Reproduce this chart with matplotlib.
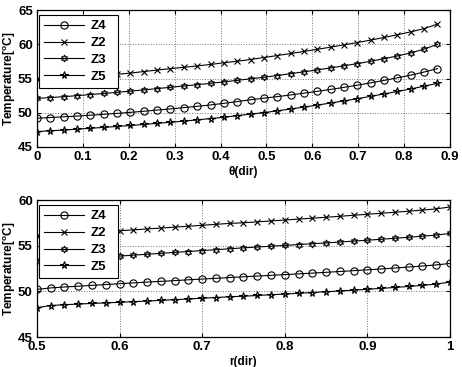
import numpy as np
import matplotlib
matplotlib.use("Agg")
import matplotlib.pyplot as plt

# ---- data ----
theta = np.linspace(0, 0.8727, 31)
theta_z4 = [49.20, 49.30, 49.41, 49.52, 49.64, 49.77, 49.91, 50.06, 50.22, 50.39,
            50.57, 50.75, 50.94, 51.14, 51.38, 51.63, 51.90, 52.13, 52.36, 52.60,
            52.86, 53.13, 53.41, 53.71, 54.03, 54.37, 54.73, 55.10, 55.50, 55.95,
            56.45]
theta_z2 = [55.00, 55.10, 55.20, 55.30, 55.40, 55.50, 55.61, 55.80, 56.02, 56.24,
            56.45, 56.64, 56.84, 57.06, 57.30, 57.53, 57.78, 58.07, 58.36, 58.66,
            58.96, 59.27, 59.59, 59.92, 60.26, 60.62, 61.00, 61.40, 61.82, 62.30,
            62.95]
theta_z3 = [52.10, 52.22, 52.35, 52.50, 52.66, 52.82, 52.99, 53.16, 53.34, 53.53,
            53.72, 53.91, 54.10, 54.30, 54.51, 54.74, 54.96, 55.18, 55.44, 55.71,
            55.98, 56.26, 56.55, 56.86, 57.18, 57.52, 57.90, 58.30, 58.75, 59.30,
            60.00]
theta_z5 = [47.25, 47.36, 47.48, 47.60, 47.73, 47.86, 48.00, 48.14, 48.29, 48.45,
            48.61, 48.78, 48.96, 49.15, 49.35, 49.58, 49.80, 50.02, 50.28, 50.55,
            50.83, 51.12, 51.42, 51.73, 52.06, 52.40, 52.75, 53.11, 53.48, 53.88,
            54.30]

r = np.linspace(0.5, 1.0, 31)
r_z4 = [50.22, 50.38, 50.48, 50.57, 50.66, 50.75, 50.84, 50.93, 51.02, 51.10,
        51.18, 51.27, 51.35, 51.43, 51.52, 51.60, 51.68, 51.76, 51.84, 51.92,
        52.00, 52.09, 52.18, 52.27, 52.36, 52.46, 52.56, 52.67, 52.78, 52.90,
        53.06]
r_z2 = [56.05, 56.15, 56.25, 56.35, 56.45, 56.55, 56.64, 56.74, 56.84, 56.94,
        57.04, 57.14, 57.24, 57.35, 57.45, 57.52, 57.62, 57.72, 57.82, 57.92,
        58.02, 58.12, 58.23, 58.34, 58.45, 58.56, 58.67, 58.79, 58.91, 59.04,
        59.25]
r_z3 = [53.32, 53.41, 53.50, 53.59, 53.68, 53.77, 53.87, 53.97, 54.07, 54.17,
        54.27, 54.37, 54.47, 54.57, 54.67, 54.77, 54.86, 54.95, 55.04, 55.13,
        55.22, 55.31, 55.41, 55.51, 55.61, 55.71, 55.82, 55.93, 56.05, 56.17,
        56.35]
r_z5 = [48.22, 48.45, 48.54, 48.61, 48.68, 48.74, 48.80, 48.87, 48.94, 49.01,
        49.09, 49.17, 49.25, 49.33, 49.41, 49.47, 49.55, 49.63, 49.71, 49.79,
        49.87, 49.96, 50.05, 50.14, 50.23, 50.33, 50.43, 50.54, 50.66, 50.80,
        51.02]

labels = ["Z4", "Z2", "Z3", "Z5"]
theta_ticks = [0, 0.1, 0.2, 0.3, 0.4, 0.5, 0.6, 0.7, 0.8, 0.9]
theta_ticklabels = ["0", "0.1", "0.2", "0.3", "0.4", "0.5", "0.6", "0.7", "0.8", "0.9"]
r_ticks = [0.5, 0.6, 0.7, 0.8, 0.9, 1.0]
r_ticklabels = ["0.5", "0.6", "0.7", "0.8", "0.9", "1"]

plt.rcParams['font.family'] = ['Liberation Sans', 'DejaVu Sans']
plt.rcParams['font.weight'] = 'bold'
plt.rcParams['font.size'] = 9.5
plt.rcParams['mathtext.fontset'] = 'custom'
plt.rcParams['mathtext.bf'] = 'Liberation Sans:bold'
plt.rcParams['mathtext.rm'] = 'Liberation Sans:bold'

styles = [
    dict(marker='o', markersize=5.2),
    dict(marker='x', markersize=4),
    dict(marker=(6, 1, 0), markersize=5),
    dict(marker='*', markersize=5.5),
]


def draw_panel(ax, x, series, ticks, ticklabels, xlim, ylim, yticks, xlabel):
    for ys, lab, st in zip(series, labels, styles):
        ax.plot(x, ys, color='black', linewidth=0.8, markerfacecolor='none',
                markeredgecolor='black', markeredgewidth=0.8, label=lab, **st)
    ax.set_xlim(*xlim)
    ax.set_ylim(*ylim)
    ax.set_xticks(ticks)
    ax.set_xticklabels(ticklabels, fontweight='bold', fontsize=9.5)
    ax.set_yticks(yticks)
    ax.set_yticklabels([str(v) for v in yticks], fontweight='bold', fontsize=9.5)
    ax.grid(True, linestyle=':', color='0.45', linewidth=0.7)
    ax.tick_params(direction='in', length=3, top=True, right=True, pad=3,
                   width=0.8)
    for s in ax.spines.values():
        s.set_linewidth(0.9)
    ax.set_xlabel(xlabel, fontsize=8.5, fontweight='bold', labelpad=2)
    ax.set_ylabel(r'Temperature[$^{\rm o}$C]', fontsize=8.5,
                  fontweight='bold', labelpad=0)
    h = ax.get_ylim()
    leg = ax.legend(loc='upper left', bbox_to_anchor=(0.005, 0.41, 0.19, 0.555),
                    mode='expand', borderaxespad=0, fancybox=False,
                    framealpha=1, edgecolor='black', handlelength=3.0,
                    handletextpad=0.5, labelspacing=0.35, borderpad=0.4,
                    prop={'size': 9.5, 'weight': 'bold'})
    leg.get_frame().set_linewidth(0.8)


fig = plt.figure(figsize=(4.62, 3.67), dpi=100)
ax1 = fig.add_axes([0.080, 0.5995, 0.894, 0.373])
ax2 = fig.add_axes([0.080, 0.0817, 0.894, 0.373])

draw_panel(ax1, theta, [theta_z4, theta_z2, theta_z3, theta_z5],
           theta_ticks, theta_ticklabels, (0, 0.9), (45, 65),
           [45, 50, 55, 60, 65], 'θ(dir)')
draw_panel(ax2, r, [r_z4, r_z2, r_z3, r_z5],
           r_ticks, r_ticklabels, (0.5, 1.0), (45, 60),
           [45, 50, 55, 60], 'r(dir)')

fig.savefig('out.png', dpi=100)
